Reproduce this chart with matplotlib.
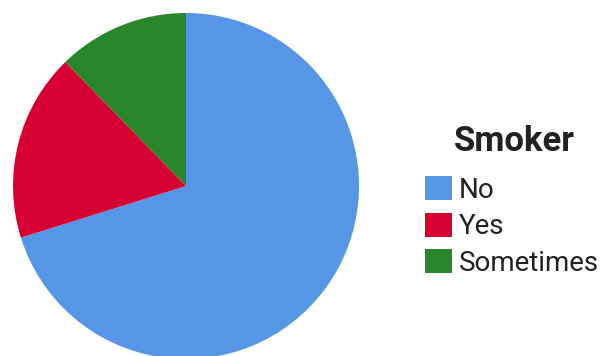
import matplotlib
matplotlib.use("Agg")
import matplotlib.pyplot as plt

# Survey responses
categories = ["No", "Yes", "Sometimes"]
counts = [40, 10, 7]
colors = ["#5596E6", "#D60032", "#2A862A"]
legend_title = "Smoker"

W, H = 605, 356
fig = plt.figure(figsize=(W / 100, H / 100), dpi=100)
plt.rcParams["font.family"] = ["Roboto", "DejaVu Sans"]

# pie: centre (186, 186) px from top-left, radius 173 px
cx, cy, r = 186, 186, 173
ax = fig.add_axes([(cx - r) / W, (H - cy - r) / H, 2 * r / W, 2 * r / H])
wedges, _ = ax.pie(counts, colors=colors, startangle=90, counterclock=False,
                   radius=1.0, wedgeprops=dict(linewidth=0))
ax.set_xlim(-1, 1)
ax.set_ylim(-1, 1)
ax.axis("off")

fig.text(514 / W, 1 - 151 / H, legend_title, ha="center", va="baseline",
         fontsize=25, fontweight="bold", color="#222222")

fig.legend(wedges, categories,
           loc="upper left", bbox_to_anchor=(425 / W, 1 - 176 / H),
           frameon=False, fontsize=20,
           handlelength=0.97, handleheight=0.95, handletextpad=0.25,
           labelspacing=0.33, borderpad=0, borderaxespad=0,
           labelcolor="#222222")

fig.savefig("out.png", dpi=100)
